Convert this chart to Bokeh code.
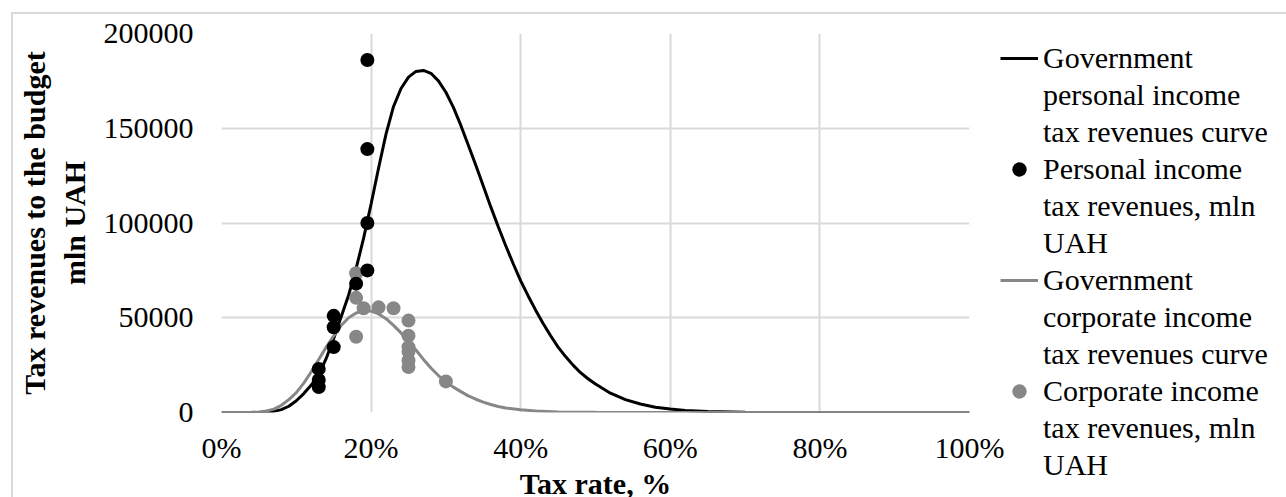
from bokeh.plotting import figure
from bokeh.models import (FixedTicker, PrintfTickFormatter, BasicTickFormatter,
                          Legend, LegendItem, Range1d)
from bokeh.embed import file_html
from bokeh.resources import INLINE

# ---- data ----
personal_curve_rate = [0, 5, 6, 7, 8, 9, 10, 11, 12, 13, 14, 15, 16, 17, 18, 19, 20, 21, 22, 23, 24, 25,
                       26, 27, 28, 29, 30, 31, 32, 33, 34, 35, 36, 37, 38, 39, 40, 41, 42, 43, 44, 45,
                       46, 47, 48, 49, 50, 52, 54, 56, 58, 60, 62, 65, 70, 75, 100]
personal_curve_rev = [0, 0, 150, 600, 1500, 3300, 6200, 10000, 14500, 20000, 28500, 39000, 50500, 62000,
                      76000, 92000, 110000, 129000, 147000, 161500, 171000, 177000, 180000, 180500,
                      179000, 175000, 169000, 161000, 151500, 141000, 130500, 119500, 108500, 98000,
                      88000, 78500, 69500, 61500, 54000, 47000, 40500, 34500, 29500, 25000, 21000,
                      17800, 15000, 10200, 6800, 4500, 2800, 1800, 1100, 500, 100, 0, 0]

corporate_curve_rate = [0, 4, 5, 6, 7, 8, 9, 10, 11, 12, 13, 14, 15, 16, 17, 18, 19, 20, 21, 22, 23, 24,
                        25, 26, 27, 28, 29, 30, 31, 32, 33, 34, 35, 36, 37, 38, 40, 42, 45, 50, 55, 100]
corporate_curve_rev = [0, 100, 300, 800, 1800, 3800, 6800, 10500, 15500, 21500, 28000, 34500, 40500,
                       46000, 50000, 52500, 53500, 53500, 52000, 49500, 46000, 42000, 37500, 33000,
                       28000, 23500, 19500, 16200, 13400, 11000, 8800, 7000, 5500, 4200, 3200, 2400,
                       1400, 800, 300, 100, 0, 0]

personal_rate = [13, 13, 13, 15, 15, 15, 18, 19.5, 19.5, 19.5, 19.5]
personal_rev = [13400, 17200, 23000, 34500, 45000, 51000, 68000, 75000, 100000, 139000, 186000]

corporate_rate = [18, 18, 19, 21, 23, 18, 25, 25, 25, 25, 25, 25, 30]
corporate_rev = [73500, 60500, 55000, 55500, 55000, 40000, 48500, 40500, 34500, 32000, 27500, 24000, 16400]

x_ticks = [0, 20, 40, 60, 80, 100]
y_ticks = [0, 50000, 100000, 150000, 200000]

legend_lines = [["Government", "personal income", "tax revenues curve"],
                ["Personal income", "tax revenues, mln", "UAH"],
                ["Government", "corporate income", "tax revenues curve"],
                ["Corporate income", "tax revenues, mln", "UAH"]]

FONT = "'Liberation Serif', 'Times New Roman', 'DejaVu Serif', serif"
BLACK = "#000000"
GRAY = "#878787"
GRID = "#d9d9d9"

p = figure(frame_width=748, frame_height=379, output_backend="svg", toolbar_location=None,
           x_range=Range1d(0, 100), y_range=Range1d(0, 200000),
           min_border_left=208, min_border_right=316, min_border_top=19, min_border_bottom=85)
p.styles = {"border-left": "2px solid #d9d9d9", "border-top": "2px solid #d9d9d9",
            "margin-left": "11px", "margin-top": "12px"}
p.outline_line_color = None
p.background_fill_color = "white"
p.border_fill_color = "white"

for ax in (p.xaxis[0], p.yaxis[0]):
    ax.axis_line_color = None
    ax.major_tick_line_color = None
    ax.minor_tick_line_color = None
    ax.major_tick_in = 0
    ax.major_tick_out = 0
    ax.minor_tick_in = 0
    ax.minor_tick_out = 0
    ax.major_label_text_font = FONT
    ax.major_label_text_font_size = "30px"
    ax.major_label_text_color = BLACK
    ax.axis_label_text_font = FONT
    ax.axis_label_text_font_size = "30px"
    ax.axis_label_text_font_style = "bold"
    ax.axis_label_text_color = BLACK

p.xaxis.ticker = FixedTicker(ticks=x_ticks)
p.xaxis.formatter = PrintfTickFormatter(format="%d%%")
p.xaxis.axis_label = "Tax rate, %"
p.xaxis.major_label_standoff = 18
p.xaxis.axis_label_standoff = 0

p.yaxis.ticker = FixedTicker(ticks=y_ticks)
p.yaxis.formatter = BasicTickFormatter(use_scientific=False)
p.yaxis.axis_label = "Tax revenues to the budget\nmln UAH"
p.yaxis.major_label_standoff = 28
p.yaxis.axis_label_standoff = 10

p.xgrid.ticker = FixedTicker(ticks=x_ticks)
p.ygrid.ticker = FixedTicker(ticks=y_ticks)
for g in (p.xgrid[0], p.ygrid[0]):
    g.grid_line_color = GRID
    g.grid_line_width = 2

r_pc = p.line(personal_curve_rate, personal_curve_rev, line_color=BLACK, line_width=3)
r_cc = p.line(corporate_curve_rate, corporate_curve_rev, line_color=GRAY, line_width=3)
r_cp = p.scatter(corporate_rate, corporate_rev, size=14, fill_color=GRAY, line_color=None)
r_pp = p.scatter(personal_rate, personal_rev, size=14, fill_color=BLACK, line_color=None)

items = []
for lines, rend in zip(legend_lines, [r_pc, r_pp, r_cc, r_cp]):
    items.append(LegendItem(label=lines[0], renderers=[rend]))
    for extra in lines[1:]:
        items.append(LegendItem(label=extra, renderers=[]))

legend = Legend(items=items, location=(31, -71))
legend.label_text_font = FONT
legend.label_text_font_size = "30px"
legend.label_text_color = BLACK
legend.glyph_width = 38
legend.glyph_height = 36
legend.label_height = 36
legend.label_standoff = 5
legend.spacing = 1
legend.padding = 0
legend.margin = 0
legend.border_line_color = None
legend.background_fill_alpha = 0
p.add_layout(legend, "right")

open("out.html", "w").write(file_html(p, INLINE))
